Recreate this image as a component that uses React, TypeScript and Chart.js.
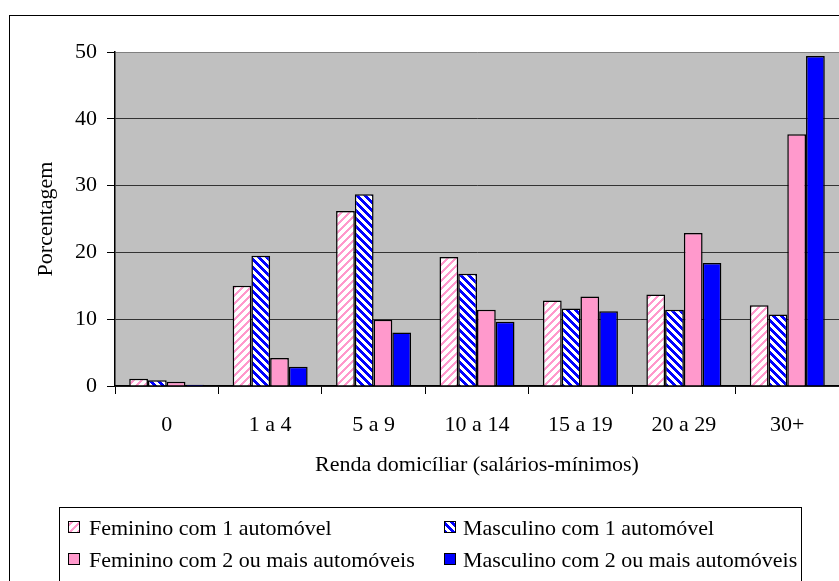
import React, { useEffect, useRef } from 'react';
import { Chart, registerables } from 'chart.js';
Chart.register(...registerables);

const categories = ['0', '1 a 4', '5 a 9', '10 a 14', '15 a 19', '20 a 29', '30+'];
const feminino1 = [1.1, 15.0, 26.2, 19.3, 12.8, 13.7, 12.1];
const masculino1 = [0.85, 19.5, 28.7, 16.8, 11.6, 11.4, 10.7];
const feminino2 = [0.65, 4.2, 9.9, 11.4, 13.4, 22.9, 37.7];
const masculino2 = [0.2, 2.9, 8.0, 9.6, 11.2, 18.4, 49.4];
const seriesLabels = [
  'Feminino com 1 automóvel',
  'Masculino com 1 automóvel',
  'Feminino com 2 ou mais automóveis',
  'Masculino com 2 ou mais automóveis',
];
const yMin = 0;
const yMax = 50;
const yStep = 10;
const yTitle = 'Porcentagem';
const xTitle = 'Renda domicíliar (salários-mínimos)';

const FONT = '"Liberation Serif", "Times New Roman", serif';
const PINK = '#FF99CC';
const BLUE = '#0000FF';

function makePattern(ctx: CanvasRenderingContext2D, color: string, dir: '/' | '\\', w: number) {
  const c = document.createElement('canvas');
  c.width = 8;
  c.height = 8;
  const g = c.getContext('2d')!;
  g.fillStyle = '#ffffff';
  g.fillRect(0, 0, 8, 8);
  g.fillStyle = color;
  for (let y = 0; y < 8; y++) {
    for (let x = 0; x < 8; x++) {
      const d = dir === '/' ? (x + y) % 8 : (((x - y) % 8) + 8) % 8;
      if (d < w) g.fillRect(x, y, 1, 1);
    }
  }
  return ctx.createPattern(c, 'repeat') as CanvasPattern;
}

const decor = {
  id: 'decor',
  beforeDraw(chart: any) {
    const ctx = chart.ctx as CanvasRenderingContext2D;
    const a = chart.chartArea;
    ctx.save();
    ctx.fillStyle = '#ffffff';
    ctx.fillRect(0, 0, chart.width, chart.height);
    ctx.strokeStyle = '#000000';
    ctx.lineWidth = 1;
    ctx.strokeRect(9.5, 15.5, 1000, 1000);
    ctx.fillStyle = '#C0C0C0';
    ctx.fillRect(a.left, a.top, a.right - a.left, a.bottom - a.top);
    ctx.restore();
  },
  afterDraw(chart: any) {
    const ctx = chart.ctx as CanvasRenderingContext2D;
    const a = chart.chartArea;
    ctx.save();
    ctx.fillStyle = '#000000';
    ctx.font = `22px ${FONT}`;
    ctx.save();
    ctx.translate(46, (a.top + a.bottom) / 2);
    ctx.rotate(-Math.PI / 2);
    ctx.textAlign = 'center';
    ctx.textBaseline = 'middle';
    ctx.fillText(yTitle, 0, 0);
    ctx.restore();
    ctx.textAlign = 'center';
    ctx.textBaseline = 'middle';
    ctx.fillText(xTitle, (a.left + a.right) / 2, 465);
    ctx.strokeStyle = '#000000';
    ctx.lineWidth = 1;
    ctx.strokeRect(59.5, 507.5, 742, 200);
    ctx.textAlign = 'left';
    ctx.textBaseline = 'alphabetic';
    chart.data.datasets.forEach((ds: any, i: number) => {
      const col = i % 2;
      const row = Math.floor(i / 2);
      const sx = col ? 444 : 68;
      const tx = col ? 463 : 89;
      const base = row ? 567 : 535;
      ctx.fillStyle = ds.backgroundColor;
      ctx.fillRect(sx, base - 14, 12, 12);
      ctx.strokeStyle = '#000000';
      ctx.strokeRect(sx + 0.5, base - 13.5, 11, 11);
      ctx.fillStyle = '#000000';
      ctx.fillText(ds.label, tx, base);
    });
    ctx.restore();
  },
};

export default function App() {
  const ref = useRef<HTMLCanvasElement | null>(null);
  useEffect(() => {
    const canvas = ref.current!;
    const ctx = canvas.getContext('2d')!;
    const fills = [
      makePattern(ctx, PINK, '/', 3),
      makePattern(ctx, BLUE, '\\', 4),
      PINK,
      BLUE,
    ];
    const values = [feminino1, masculino1, feminino2, masculino2];
    const chart = new Chart(canvas, {
      type: 'bar',
      data: {
        labels: categories,
        datasets: values.map((v, i) => ({
          label: seriesLabels[i],
          data: v,
          backgroundColor: fills[i] as any,
          borderColor: '#000000',
          borderWidth: 1.5,
          borderSkipped: 'bottom',
          categoryPercentage: 0.725,
          barPercentage: 1,
        })),
      },
      options: {
        responsive: false,
        animation: false,
        layout: { padding: { left: 0, top: 52, right: 0, bottom: 0 } },
        plugins: { legend: { display: false }, tooltip: { enabled: false } },
        scales: {
          x: {
            type: 'category',
            offset: true,
            grid: {
              display: true,
              drawOnChartArea: false,
              drawTicks: true,
              tickLength: 8,
              tickColor: '#000000',
              offset: true,
            },
            border: { display: true, color: '#000000', width: 1.5 },
            ticks: {
              color: '#000000',
              font: { family: FONT, size: 22 },
              padding: 18,
              maxRotation: 0,
              autoSkip: false,
            },
            afterFit: (s: any) => {
              s.height = 195;
            },
          },
          y: {
            min: yMin,
            max: yMax,
            ticks: {
              stepSize: yStep,
              color: '#000000',
              font: { family: FONT, size: 22 },
              padding: 10,
            },
            grid: {
              color: (c: any) => (c.tick && c.tick.value === yMax ? '#808080' : '#333333'),
              lineWidth: 1,
              tickLength: 8,
              tickColor: '#000000',
            },
            border: { display: true, color: '#000000', width: 1.5 },
            afterFit: (s: any) => {
              s.width = 115;
            },
          },
        },
      },
      plugins: [decor],
    });
    return () => chart.destroy();
  }, []);
  return (
    <div style={{ position: 'absolute', left: 0, top: 0, width: 839, height: 581, background: '#fff' }}>
      <canvas ref={ref} width={839} height={581} style={{ display: 'block' }} />
    </div>
  );
}
